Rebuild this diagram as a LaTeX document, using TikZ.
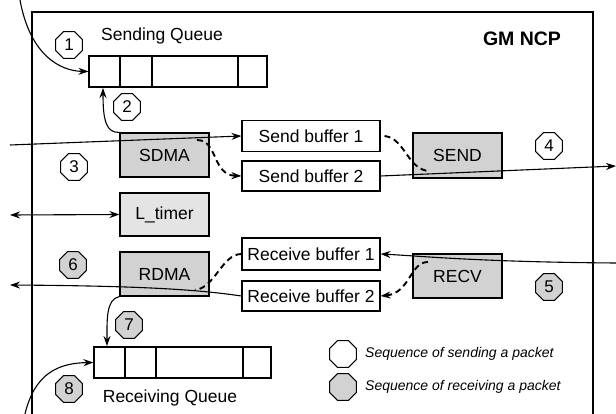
\documentclass[tikz,border=0pt]{standalone}
\usepackage{fontspec}
\setmainfont{Liberation Sans}
\usetikzlibrary{shapes.geometric,arrows.meta}
\definecolor{boxgray}{HTML}{D2D2D2}
\definecolor{lightgray2}{HTML}{E4E4E4}
\tikzset{
  lbl/.style={font=\fontsize{17.5}{20}\selectfont, inner sep=0pt},
  box/.style={draw, line width=1.1pt, inner sep=0pt, font=\fontsize{17.5}{20}\selectfont},
  unit/.style={box, fill=boxgray, minimum width=89pt, minimum height=44pt},
  buf/.style={box, fill=white, minimum width=138pt, minimum height=31pt},
  queue/.style={box, minimum height=31pt},
  oct/.style={draw, line width=1.1pt, regular polygon, regular polygon sides=8, minimum size=29pt, inner sep=0pt, font=\fontsize{17}{20}\selectfont},
  octs/.style={oct, fill=white},
  octr/.style={oct, fill=boxgray},
  arr/.style={line width=1.1pt, -{Stealth[length=10pt,width=7pt]}},
  darr/.style={line width=1.1pt, {Stealth[length=10pt,width=7pt]}-{Stealth[length=10pt,width=7pt]}},
  dashline/.style={line width=1.9pt, dash pattern=on 6pt off 4pt},
  legend/.style={font=\fontsize{14}{16}\selectfont\itshape, anchor=west, inner sep=0pt}
}
\begin{document}
\begin{tikzpicture}[x=1pt,y=-1pt]
\useasboundingbox (0,0) rectangle (616,414);
% frame
\draw[line width=1.3pt] (32,420) -- (32,12) -- (593,12) -- (593,420);
\node[font=\fontsize{19.5}{22}\selectfont\bfseries] (gm) at (522,39) {GM NCP};

% queues
\node[queue, minimum width=178pt] (sq) at (178,71.5) {};
\foreach \x in {120,152,238} \draw[line width=1.1pt] (\x,56) -- (\x,87);
\node[lbl] (sqt) at (162,36) {Sending Queue};
\node[queue, minimum width=177pt] (rq) at (182.5,362.5) {};
\foreach \x in {125,156,243} \draw[line width=1.1pt] (\x,347) -- (\x,378);
\node[lbl] (rqt) at (170,398) {Receiving Queue};

% units
\node[unit] (sdma) at (164.5,155) {SDMA};
\node[unit, fill=lightgray2, minimum height=43pt] (lt) at (164.5,214.5) {L\_timer};
\node[unit] (rdma) at (164.5,274) {RDMA};
\node[unit, minimum height=45pt] (send) at (457.5,155.5) {SEND};
\node[unit] (recv) at (457.5,276) {RECV};

% buffers
\node[buf] (sb1) at (311,136) {Send buffer 1};
\node[buf, minimum height=30pt] (sb2) at (311,176) {Send buffer 2};
\node[buf, minimum height=32pt] (rb1) at (311,254) {Receive buffer 1};
\node[buf, minimum height=30pt] (rb2) at (311,296) {Receive buffer 2};

% octagons
\node[octs] (o1) at (69,45) {1};
\node[octs] (o2) at (127,107) {2};
\node[octs] (o3) at (74,167) {3};
\node[octs] (o4) at (549,146) {4};
\node[octr] (o5) at (549,287) {5};
\node[octr] (o6) at (73,265) {6};
\node[octr] (o7) at (129,325) {7};
\node[octr] (o8) at (69,389) {8};
\node[octs] (l1) at (343,354) {};
\node[octr] (l2) at (343,387) {};
\node[legend] (lt1) at (365,354) {Sequence of sending a packet};
\node[legend] (lt2) at (365,387) {Sequence of receiving a packet};

% coordinates for free ends
\coordinate (in1) at (20,0);
\coordinate (in3) at (10,145);
\coordinate (out4) at (616,166);
\coordinate (ltl) at (10,215);
\coordinate (in5) at (616,263);
\coordinate (out6) at (10,285);
\coordinate (in8) at (25,414);
\coordinate (sdmaR) at (197,140);
\coordinate (sendIn) at (430,171);
\coordinate (recvIn) at (428,262);
\coordinate (rdmaIn) at (195,290);

% connectors
\draw[arr] (in1) .. controls (30,55) and (60,71) .. (sq.west);
\draw[arr] (sdma.north west) .. controls (106,133) and (103,120) .. (103,88);
\draw[arr] (in3) -- (sb1.west);
\draw[dashline, -{Stealth[length=10pt,width=7pt]}] (sdmaR) .. controls (218,140) and (212,175) .. (sb2.west);
\draw[dashline] (sb1.east) ++(4,0) .. controls (405,138) and (408,171) .. (sendIn);
\draw[arr] (sb2.east) -- (out4);
\draw[darr] (ltl) -- (lt.west);
\draw[arr] (in5) .. controls (480,262) and (420,256) .. (rb1.east);
\draw[dashline, -{Stealth[length=10pt,width=7pt]}] (recvIn) .. controls (410,262) and (410,293) .. (rb2.east);
\draw[dashline] (rb1.west) .. controls (222,254) and (215,288) .. (rdmaIn);
\draw[arr] (rb2.west) .. controls (200,290) and (150,286) .. (out6);
\draw[arr] (rdma.south west) .. controls (106,299) and (107,320) .. (107,346);
\draw[arr] (in8) .. controls (35,372) and (60,363) .. (rq.west);
\end{tikzpicture}
\end{document}
